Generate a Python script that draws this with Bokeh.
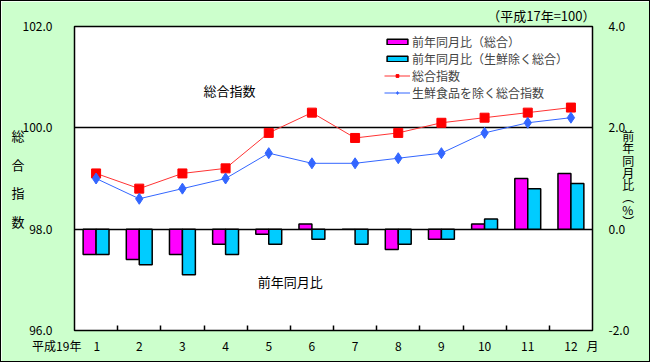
from bokeh.plotting import figure
from bokeh.models import (Range1d, LinearAxis, FixedTicker, PrintfTickFormatter,
                          Legend, LegendItem, Label, Title, ColumnDataSource)
from bokeh.embed import file_html
from bokeh.resources import INLINE

months = [1, 2, 3, 4, 5, 6, 7, 8, 9, 10, 11, 12]
month_labels = ["1", "2", "3", "4", "5", "6", "7", "8", "9", "10", "11", "12"]
year_label = "平成19年"
unit_label = "月"
yoy_total = [-0.5, -0.6, -0.5, -0.3, -0.1, 0.1, 0.0, -0.4, -0.2, 0.1, 1.0, 1.1]
yoy_core = [-0.5, -0.7, -0.9, -0.5, -0.3, -0.2, -0.3, -0.3, -0.2, 0.2, 0.8, 0.9]
index_total = [99.1, 98.8, 99.1, 99.2, 99.9, 100.3, 99.8, 99.9, 100.1, 100.2, 100.3, 100.4]
index_core = [99.0, 98.6, 98.8, 99.0, 99.5, 99.3, 99.3, 99.4, 99.5, 99.9, 100.1, 100.2]

JP = "Noto Sans CJK JP"
BG = "#CCFFCC"
W, H = 650, 362

p = figure(width=W, height=H, output_backend="svg", toolbar_location=None,
           x_range=Range1d(0.5, 12.5), y_range=Range1d(96, 102),
           min_border_left=73, min_border_right=59, min_border_top=25, min_border_bottom=33,
           background_fill_color="white", border_fill_color=BG,
           outline_line_color="black", outline_line_width=1.5)
p.styles = {"border": "1px solid black"}
p.extra_y_ranges = {"pct": Range1d(-2, 4)}

src = ColumnDataSource(dict(
    x=months,
    xl=[m - 0.15 for m in months],
    xr=[m + 0.15 for m in months],
    yt=yoy_total, yc=yoy_core, it=index_total, ic=index_core))

b1 = p.vbar(x="xl", top="yt", bottom=0, width=0.3, source=src, y_range_name="pct",
            fill_color="#FF00FF", line_color="black", line_width=1.5)
b2 = p.vbar(x="xr", top="yc", bottom=0, width=0.3, source=src, y_range_name="pct",
            fill_color="#00CCFF", line_color="black", line_width=1.5)
l1 = p.line(x="x", y="it", source=src, line_color="#FF3333", line_width=1)
m1 = p.scatter(x="x", y="it", source=src, marker="square", size=9,
               fill_color="#FF0000", line_color="#FF0000")
l2 = p.line(x="x", y="ic", source=src, line_color="#3366FF", line_width=1)
m2 = p.scatter(x="x", y="ic", source=src, marker="diamond", size=11,
               fill_color="#3366FF", line_color="#3366FF")

# grid
p.xgrid.visible = False
p.ygrid.ticker = FixedTicker(ticks=[98, 100])
p.ygrid.grid_line_color = "black"
p.ygrid.grid_line_width = 1.5
p.ygrid.grid_line_alpha = 1

def style_axis(ax, standoff):
    ax.major_tick_line_color = None
    ax.minor_tick_line_color = None
    ax.axis_line_color = None
    ax.major_label_standoff = standoff
    ax.major_label_text_font = JP
    ax.major_label_text_font_size = "12px"
    ax.major_label_text_color = "black"
    ax.axis_label_text_font = JP
    ax.axis_label_text_font_size = "13px"
    ax.axis_label_text_font_style = "normal"
    ax.axis_label_text_color = "black"

ya = p.yaxis[0]
ya.ticker = FixedTicker(ticks=[96, 98, 100, 102])
ya.formatter = PrintfTickFormatter(format="%.1f")
style_axis(ya, 16)
ya.axis_label = "総\n合\n指\n数"
ya.axis_label_orientation = "horizontal"
ya.axis_label_text_line_height = 1.5
ya.axis_label_standoff = -5

ra = LinearAxis(y_range_name="pct", ticker=FixedTicker(ticks=[-2, 0, 2, 4]),
                formatter=PrintfTickFormatter(format="%.1f"))
style_axis(ra, 10)
ra.axis_label = "前\n年\n同\n月\n比\n︵\n%\n︶"
ra.axis_label_orientation = "horizontal"
ra.axis_label_text_font_size = "12px"
ra.axis_label_text_line_height = 0.72
ra.axis_label_standoff = -10
p.add_layout(ra, "right")

# first month label carries the year prefix; ideographic spaces keep "1" centred on its tick
pad = "\u3000"
labels_x = [year_label + pad + month_labels[0] + pad * 5] + month_labels[1:]
xpos = months + [12.5]
xa = p.xaxis[0]
xa.ticker = FixedTicker(ticks=xpos, minor_ticks=[m + 0.5 for m in months[:-1]])
xa.major_label_overrides = dict(zip(xpos, labels_x + [unit_label]))
style_axis(xa, 0)
xa.minor_tick_in = 5
xa.minor_tick_out = 0
xa.minor_tick_line_color = "black"
xa.minor_tick_line_width = 1.5

# top-right note
p.add_layout(Title(text="（平成17年=100）", align="right", text_font=JP,
                   text_font_size="13px", text_font_style="normal",
                   text_color="black", standoff=4, offset=-3), "above")

# legend
legend = Legend(items=[
    LegendItem(label="前年同月比（総合）", renderers=[b1]),
    LegendItem(label="前年同月比（生鮮除く総合）", renderers=[b2]),
    LegendItem(label="総合指数", renderers=[l1, m1]),
    LegendItem(label="生鮮食品を除く総合指数", renderers=[l2, m2]),
], location=(310, 229), background_fill_alpha=0, border_line_color=None,
    glyph_width=26, glyph_height=7, label_height=14, spacing=-3, padding=2,
    label_standoff=2, label_text_font=JP, label_text_font_size="12px", margin=0)
p.add_layout(legend)

def lab(x, y, text, **kw):
    p.add_layout(Label(x=x, y=y, text=text, text_font=JP, text_color="black",
                       text_font_size="13px", text_align="center",
                       text_baseline="middle", **kw))

lab(4.09, 100.74, "総合指数")
lab(5.50, 96.97, "前年同月比")

open("out.html", "w").write(file_html(p, INLINE))
